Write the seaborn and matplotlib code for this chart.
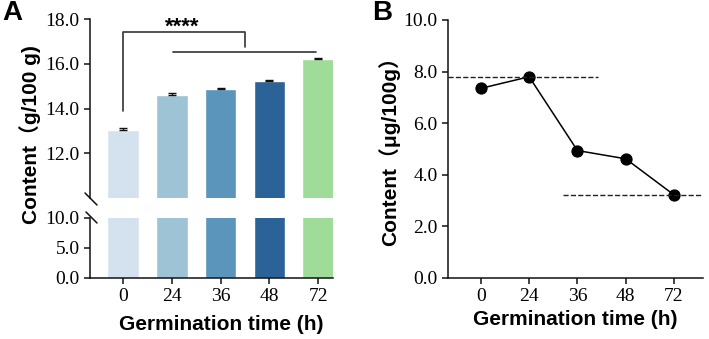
import numpy as np
import pandas as pd
import matplotlib
matplotlib.use("Agg")
import matplotlib.pyplot as plt
import seaborn as sns
from matplotlib.lines import Line2D

# data
times = ["0", "24", "36", "48", "72"]
content_a = [13.06, 14.62, 14.86, 15.23, 16.20]
err_a = [0.06, 0.06, 0.04, 0.03, 0.04]
bar_colors = ["#d4e2ef", "#9dc3d5", "#5b95bb", "#2b6297", "#9fdb99"]
content_b = [7.35, 7.80, 4.94, 4.62, 3.22]

sns.set_style("ticks")
plt.rcParams["font.family"] = ["Liberation Serif", "DejaVu Serif"]
plt.rcParams["axes.linewidth"] = 1.1
plt.rcParams["xtick.major.width"] = 1.1
plt.rcParams["ytick.major.width"] = 1.1
plt.rcParams["xtick.major.size"] = 4
plt.rcParams["ytick.major.size"] = 4
plt.rcParams["xtick.labelsize"] = 14
plt.rcParams["ytick.labelsize"] = 14
plt.rcParams["xtick.color"] = "#111111"
plt.rcParams["ytick.color"] = "#111111"
plt.rcParams["xtick.labelcolor"] = "black"
plt.rcParams["ytick.labelcolor"] = "black"
plt.rcParams["axes.edgecolor"] = "#111111"
plt.rcParams["axes.labelcolor"] = "black"
plt.rcParams["text.color"] = "black"

LABEL_FONT = ["Liberation Sans", "Noto Sans CJK SC", "DejaVu Sans"]

W, H = 709, 339
fig = plt.figure(figsize=(W / 100, H / 100), dpi=100)


def px_rect(left, top, right, bottom):
    return [left / W, 1 - bottom / H, (right - left) / W, (bottom - top) / H]


df_a = pd.DataFrame({"time": times, "content": content_a, "err": err_a})

# ---- panel A: broken y axis bar chart
ax_top = fig.add_axes(px_rect(90, 19, 333, 198))
ax_bot = fig.add_axes(px_rect(90, 218, 333, 278))

for ax in (ax_top, ax_bot):
    sns.barplot(data=df_a, x="time", y="content", hue="time",
                palette=bar_colors, legend=False, errorbar=None,
                width=0.65, ax=ax, saturation=1)
    ax.set_xlim(-0.67, 4.3)
    ax.set_xlabel("")
    ax.set_ylabel("")
    sns.despine(ax=ax)

ax_top.errorbar(np.arange(len(times)), df_a["content"],
                yerr=[np.zeros(len(times)), df_a["err"]],
                fmt="none", ecolor="#111111", elinewidth=1.0, capsize=3)

ax_top.set_ylim(10, 18)
ax_top.set_yticks([12, 14, 16, 18])
ax_top.set_yticklabels([f"{v:.1f}" for v in [12, 14, 16, 18]])
ax_top.spines["bottom"].set_visible(False)
ax_top.tick_params(axis="x", bottom=False, labelbottom=False)

ax_bot.set_ylim(0, 10)
ax_bot.set_yticks([0, 5, 10])
ax_bot.set_yticklabels([f"{v:.1f}" for v in [0, 5, 10]])
ax_bot.set_xlabel("Germination time (h)", fontsize=15, fontweight="bold",
                  family=LABEL_FONT, labelpad=3)
ax_bot.xaxis.set_label_coords(0.54, -0.62)

# break marks
for (x0, y0, x1, y1) in [(85, 193, 97, 205), (86, 212, 97, 223)]:
    fig.add_artist(Line2D([x0 / W, x1 / W], [1 - y0 / H, 1 - y1 / H],
                          color="#111111", lw=1.1, transform=fig.transFigure))

# significance bracket
bk = dict(color="#333333", lw=1.2, clip_on=False)
ax_top.plot([0, 0, 2.5, 2.5], [13.9, 17.4, 17.4, 16.76], **bk)
ax_top.plot([1.02, 3.96], [16.53, 16.53], **bk)
ax_top.text(1.22, 17.62, "****", ha="center", va="center", fontsize=16,
            fontweight="bold", family=LABEL_FONT)

fig.text(30 / W, 1 - 135 / H, "Content（g/100 g)", rotation=90,
         ha="center", va="center", fontsize=15, fontweight="bold",
         family=LABEL_FONT)
fig.text(2 / W, 1 - 13 / H, "A", ha="left", va="center", fontsize=20,
         fontweight="bold", family=LABEL_FONT)

# ---- panel B: point plot
ax_b = fig.add_axes(px_rect(448, 20, 703, 278))
sns.pointplot(x=times, y=content_b, color="black", markers="o",
              markersize=8, linewidth=1.1, errorbar=None, ax=ax_b)
ax_b.set_xlim(-0.68, 4.6)
ax_b.set_ylim(0, 10)
ax_b.set_yticks(np.arange(0, 11, 2))
ax_b.set_yticklabels([f"{v:.1f}" for v in np.arange(0, 11, 2)])
ax_b.hlines(content_b[1], -0.68, 2.42, colors="#222222", linestyles="--",
            lw=1.0)
ax_b.hlines(content_b[4], 1.7, 4.6, colors="#222222", linestyles="--",
            lw=1.0)
ax_b.set_xlabel("Germination time (h)", fontsize=15, fontweight="bold",
                family=LABEL_FONT, labelpad=3)
ax_b.set_ylabel("")
sns.despine(ax=ax_b)

fig.text(389 / W, 1 - 146 / H, "Content（μg/100g）", rotation=90,
         ha="center", va="center", fontsize=15, fontweight="bold",
         family=LABEL_FONT)
fig.text(372 / W, 1 - 13 / H, "B", ha="left", va="center", fontsize=20,
         fontweight="bold", family=LABEL_FONT)

fig.savefig("out.png", dpi=100)
